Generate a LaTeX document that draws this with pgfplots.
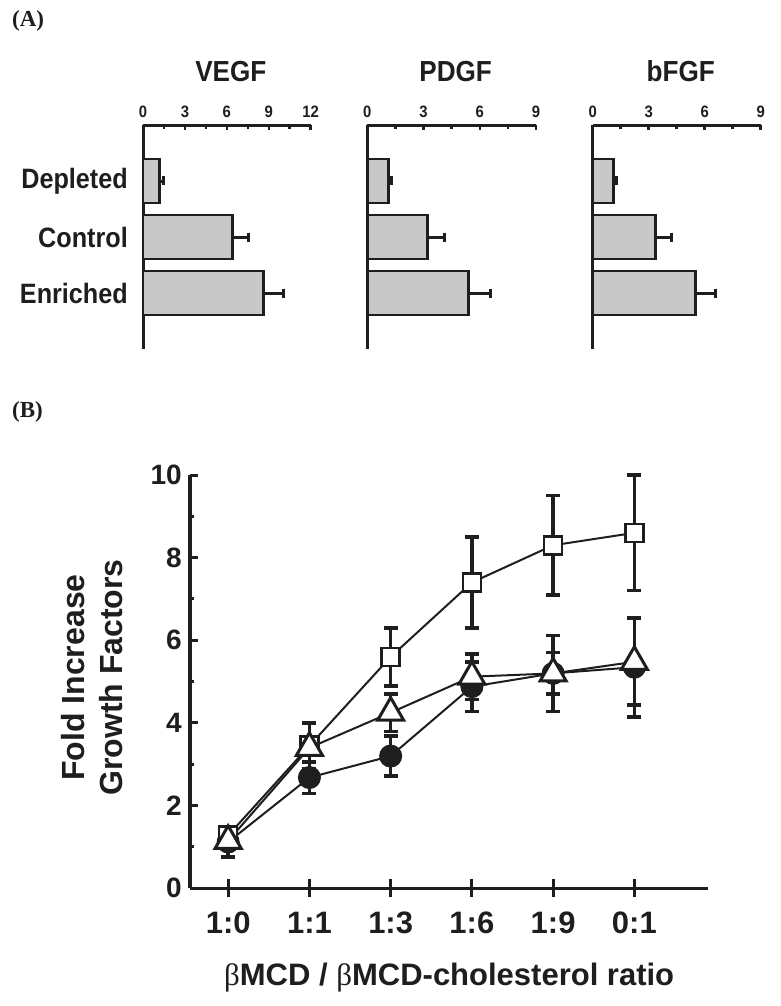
\documentclass[border=0pt]{standalone}
\usepackage{pgfplots}
\pgfplotsset{compat=1.18}
\usepackage{fontspec}
\setmainfont{Liberation Sans}
\newfontfamily\fa{Liberation Sans}[FakeStretch=0.9]
\newfontfamily\fser{Liberation Serif}
\definecolor{bargray}{RGB}{200,200,200}
\definecolor{ink}{RGB}{30,30,30}

\pgfplotsset{
  panelA/.style={
    scale only axis, height=224pt,
    xmin=0, ymin=0, ymax=4,
    axis x line=top, axis y line=left,
    axis line style={-, line width=3pt, ink},
    minor x tick num=1,
    tick align=inside,
    major tick length=5pt, minor tick length=4pt,
    tick style={line width=2.5pt, ink},
    y tick style={draw=none},
    ytick={1,2,3},
    yticklabels={},
    /pgf/number format/assume math mode=true,
    xticklabel style={font=\fa\bfseries\fontsize{16.5}{16.5}\selectfont, anchor=base, yshift=7.7pt, inner sep=0pt, text=ink},
    title style={font=\fa\bfseries\fontsize{29}{29}\selectfont, at={(0.5,1)}, anchor=base, yshift=37pt, xshift=4pt, text=ink},
    xbar, bar width=44pt, bar shift=0pt,
    clip=false,
  },
  barA/.style={fill=bargray, draw=ink, line width=2.8pt,
    error bars/.cd, x dir=plus, x explicit, error mark=|,
    error bar style={line width=3pt, ink},
    error mark options={line width=3pt, mark size=4.5pt, ink}},
  errB/.style={error bars/.cd, y dir=both, y explicit, error mark=|,
    error bar style={line width=3.5pt, ink},
    error mark options={line width=3.5pt, mark size=7pt, ink}},
}

\begin{document}
\begin{tikzpicture}[x=1pt,y=1pt]
\useasboundingbox (0,0) rectangle (780,-1006);

\node[font=\fser\bfseries\fontsize{23}{23}\selectfont, anchor=base west, inner sep=0pt, text=ink] at (12,-27) {(A)};
\node[font=\fser\bfseries\fontsize{23}{23}\selectfont, anchor=base west, inner sep=0pt, text=ink] at (12,-417) {(B)};

% VEGF
\begin{axis}[panelA, at={(143pt,-125pt)}, anchor=north west, width=167.7pt,
  xmax=12, xtick={0,3,6,9,12}, title={VEGF},
  yticklabels={Enriched,Control,Depleted},
  yticklabel style={font=\fa\bfseries\fontsize{28}{28}\selectfont, anchor=east, inner sep=0pt, xshift=-10pt, text=ink}]
\addplot[barA] coordinates {(8.6,1) +- (1.45,0) (6.4,2) +- (1.15,0) (1.2,3) +- (0.3,0)};
\end{axis}

% PDGF
\begin{axis}[panelA, at={(367.3pt,-125pt)}, anchor=north west, width=168.7pt,
  xmax=9, xtick={0,3,6,9}, title={PDGF}]
\addplot[barA] coordinates {(5.4,1) +- (1.15,0) (3.2,2) +- (0.9,0) (1.15,3) +- (0.15,0)};
\end{axis}

% bFGF
\begin{axis}[panelA, at={(592.7pt,-125pt)}, anchor=north west, width=168pt,
  xmax=9, xtick={0,3,6,9}, title={bFGF}]
\addplot[barA] coordinates {(5.5,1) +- (1.1,0) (3.35,2) +- (0.85,0) (1.1,3) +- (0.15,0)};
\end{axis}

% Panel B
\begin{axis}[at={(190pt,-475pt)}, anchor=north west, scale only axis,
  width=518.3pt, height=413.3pt,
  xmin=-0.47, xmax=5.91, ymin=0, ymax=10,
  axis x line=bottom, axis y line=left,
  axis line style={-, line width=3.3pt, ink},
  xtick={0,1,2,3,4,5}, xticklabels={1:0,1:1,1:3,1:6,1:9,0:1},
  ytick={0,2,4,6,8,10}, minor ytick={1,3,5,7,9},
  tick align=inside,
  major tick length=8pt, minor tick length=4pt,
  tick style={line width=3pt, ink},
  x tick style={/pgfplots/major tick length=18pt, yshift=-9pt},
  /pgf/number format/assume math mode=true,
  xticklabel style={font=\bfseries\fontsize{31}{31}\selectfont, anchor=base, yshift=-44.7pt, inner sep=0pt, text=ink},
  yticklabel style={font=\bfseries\fontsize{28}{28}\selectfont, anchor=east, inner sep=0pt, xshift=-8pt, text=ink},
  xlabel={{\fser\mdseries β}MCD / {\fser\mdseries β}MCD-cholesterol ratio},
  xlabel style={font=\bfseries\fontsize{31}{31}\selectfont, at={(axis description cs:0.5,0)}, anchor=base, yshift=-96.7pt, inner sep=0pt, text=ink},
  ylabel={Fold Increase\\Growth Factors},
  ylabel style={font=\bfseries\fontsize{32}{38}\selectfont, align=center, at={(axis description cs:-0.189,0.51)}, anchor=center, text=ink},
  clip=false,
]
% circles (filled)
\addplot[ink, line width=2pt, mark=*, mark size=11pt, mark options={solid, fill=ink, line width=1pt}, errB]
  coordinates {(0,1.12) +- (0,0.36) (1,2.68) +- (0,0.38) (2,3.2) +- (0,0.48) (3,4.88) +- (0,0.6) (4,5.2) +- (0,0.5) (5,5.35) +- (0,1.2)};
% squares (open)
\addplot[ink, line width=2pt, mark=square*, mark size=9pt, mark options={solid, fill=white, line width=2.5pt}, errB]
  coordinates {(0,1.28) +- (0,0.15) (1,3.45) +- (0,0.55) (2,5.6) +- (0,0.7) (3,7.4) +- (0,1.1) (4,8.3) +- (0,1.2) (5,8.6) +- (0,1.4)};
% triangles (open)
\addplot[ink, line width=2pt, mark=triangle*, mark size=15pt, mark options={solid, fill=white, line width=3pt}, errB]
  coordinates {(0,1.15) +- (0,0.2) (1,3.4) +- (0,0.6) (2,4.25) +- (0,0.45) (3,5.12) +- (0,0.55) (4,5.2) +- (0,0.92) (5,5.48) +- (0,1.05)};
\end{axis}
\end{tikzpicture}
\end{document}
